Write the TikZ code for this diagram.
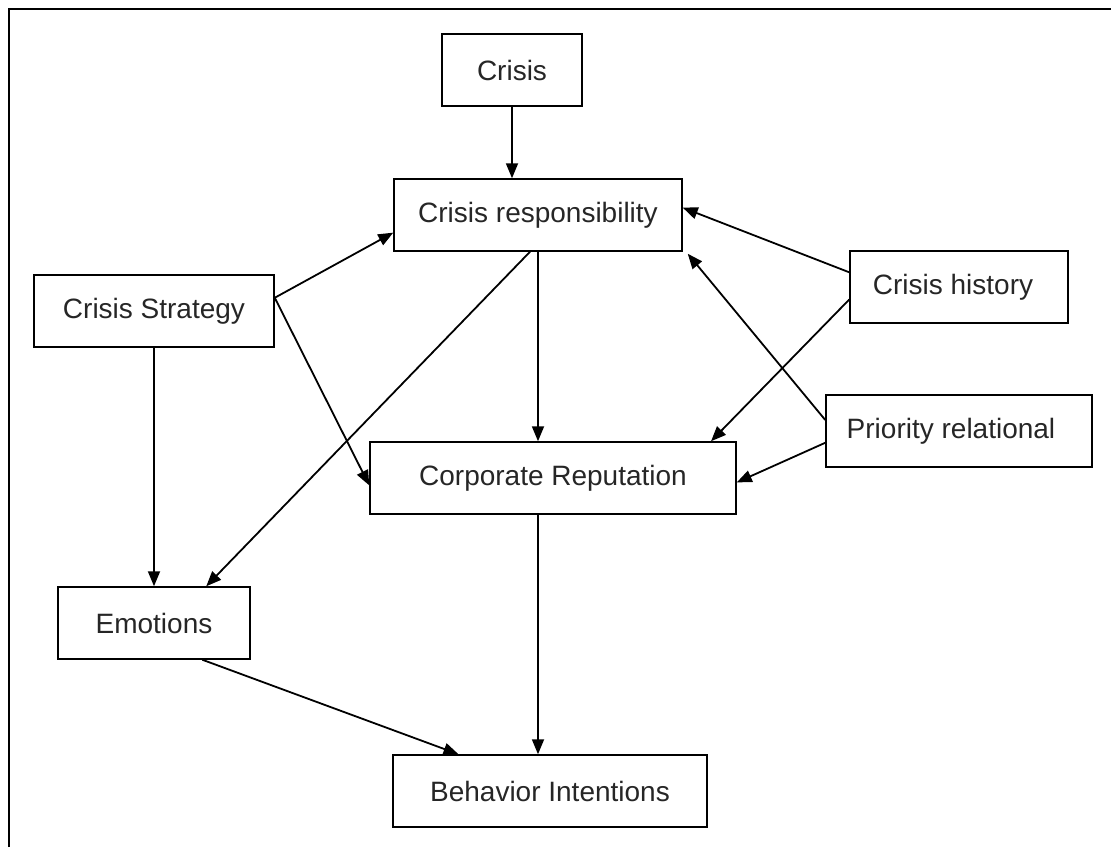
\documentclass[tikz,border=0pt]{standalone}
\usepackage{fontspec}
\setmainfont{Liberation Sans}
\usetikzlibrary{arrows.meta,calc}

\tikzset{
  box/.style={draw, line width=1.5pt, rectangle, inner sep=0pt,
              font=\fontsize{28}{32}\selectfont, text=black!85},
  link/.style={line width=1.8pt, -{Triangle[length=15pt,width=12pt]}},
}

\begin{document}
\begin{tikzpicture}[x=1pt,y=-1pt]
  \useasboundingbox (0,0) rectangle (1111,847);

  % open frame: top and left edges only
  \draw[line width=2.2pt] (9,847) -- (9,9) -- (1111,9);

  % boxes
  \node[box, minimum width=140pt, minimum height=72pt] (crisis) at (512,70)   {Crisis};
  \node[box, minimum width=288pt, minimum height=72pt] (resp)   at (538,215)   {Crisis responsibility};
  \node[box, minimum width=240pt, minimum height=72pt] (strat)  at (154,311)   {Crisis Strategy};
  \node[box, minimum width=218pt, minimum height=72pt] (hist)   at (959,287)   {\hspace*{-12pt}Crisis history};
  \node[box, minimum width=266pt, minimum height=72pt] (prio)   at (959,431)   {\hspace*{-16pt}Priority relational};
  \node[box, minimum width=366pt, minimum height=72pt] (corp)   at (553,478)   {Corporate Reputation};
  \node[box, minimum width=192pt, minimum height=72pt] (emo)    at (154,623)   {Emotions};
  \node[box, minimum width=314pt, minimum height=72pt] (beh)    at (550,791)   {Behavior Intentions};

  % connectors
  \draw[link] (crisis.south) -- (crisis.south |- resp.north);

  \draw[link] ($(strat.north east)!0.32!(strat.south east)$) -- ($(resp.north west)!0.74!(resp.south west)$);
  \draw[link] ($(strat.north east)!0.32!(strat.south east)$) -- ($(corp.north west)!0.6!(corp.south west)$);
  \draw[link] (strat.south) -- (strat.south |- emo.north);

  \draw[link] (resp.south) -- (resp.south |- corp.north);
  \draw[link] ([xshift=-8pt]resp.south) -- ($(emo.north west)!0.77!(emo.north east)$);

  \draw[link] ($(hist.north west)!0.3!(hist.south west)$) -- ($(resp.north east)!0.4!(resp.south east)$);
  \draw[link] ($(hist.north west)!0.67!(hist.south west)$) -- ($(corp.north west)!0.93!(corp.north east)$);

  \draw[link] ($(prio.north west)!0.35!(prio.south west)$) -- ([xshift=5pt,yshift=-2pt]resp.south east);
  \draw[link] ($(prio.north west)!0.66!(prio.south west)$) -- ($(corp.north east)!0.56!(corp.south east)$);

  \draw[link] ($(emo.south west)!0.75!(emo.south east)$) -- ($(beh.north west)!0.21!(beh.north east)$);
  \coordinate (cs) at ([xshift=-15pt]corp.south);
  \draw[link] (cs) -- (cs |- beh.north);
\end{tikzpicture}
\end{document}
